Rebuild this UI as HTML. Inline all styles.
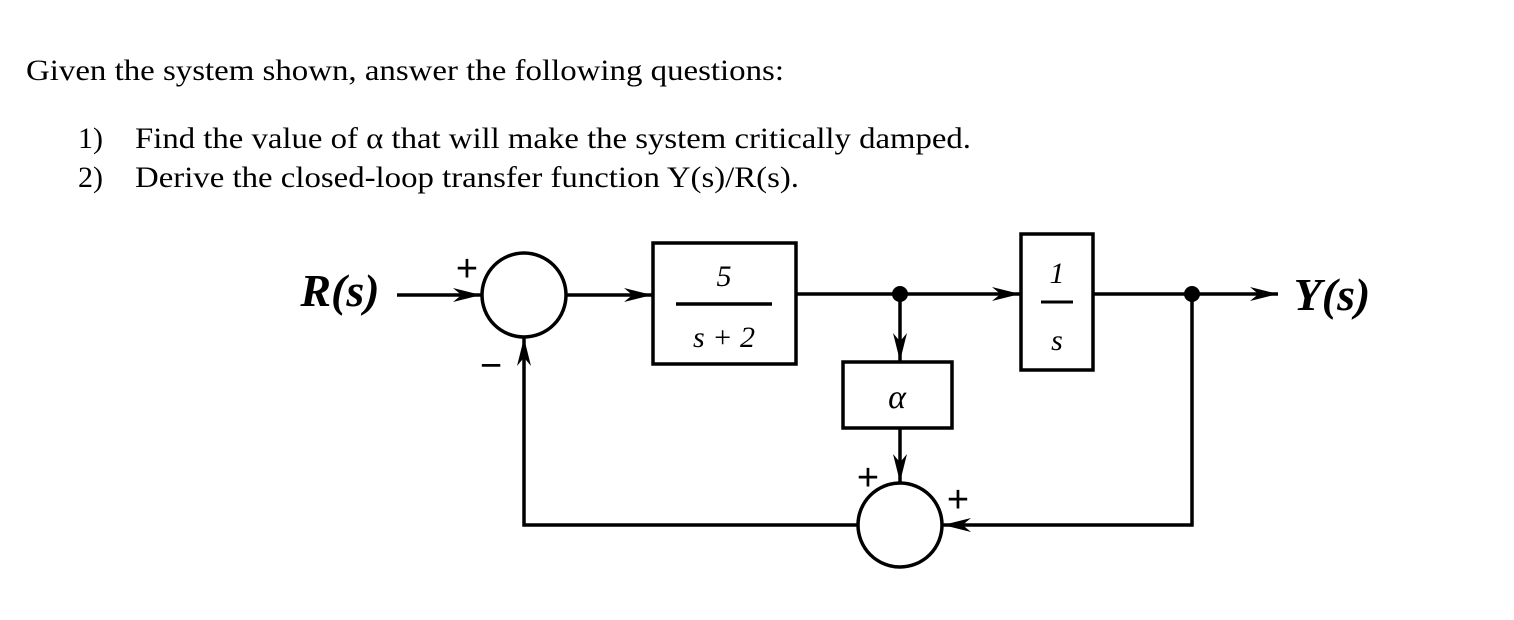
<!DOCTYPE html>
<html><head><meta charset="utf-8"><style>
html,body{margin:0;padding:0;background:#fff;}
svg{display:block;}
</style></head><body>
<svg width="1514" height="620" viewBox="0 0 1514 620" xmlns="http://www.w3.org/2000/svg">
<defs>
<marker id="ah" viewBox="0 0 20 10" refX="20" refY="5" markerWidth="40" markerHeight="14" markerUnits="userSpaceOnUse" orient="auto">
<path d="M0,0 L20,5 L0,10 L6,5 Z" fill="#000"/>
</marker>
</defs>
<g font-family="Liberation Serif, serif" fill="#000">
<text x="26" y="80" font-size="30" textLength="758" lengthAdjust="spacingAndGlyphs">Given the system shown, answer the following questions:</text>
<text x="78" y="148" font-size="30">1)</text>
<text x="135" y="148" font-size="30" textLength="836" lengthAdjust="spacingAndGlyphs">Find the value of α that will make the system critically damped.</text>
<text x="78" y="187" font-size="30">2)</text>
<text x="135" y="187" font-size="30" textLength="664" lengthAdjust="spacingAndGlyphs">Derive the closed-loop transfer function Y(s)/R(s).</text>
</g>
<g stroke="#000" stroke-width="3.5" fill="none">
<circle cx="524" cy="295" r="42"/>
<circle cx="900" cy="525" r="42"/>
<rect x="653" y="243" width="143" height="121"/>
<rect x="1021" y="234" width="72" height="136"/>
<rect x="843" y="362" width="109" height="66"/>
<line x1="397" y1="295" x2="481" y2="295" marker-end="url(#ah)"/>
<line x1="566" y1="295" x2="652" y2="295" marker-end="url(#ah)"/>
<line x1="796" y1="294" x2="1020" y2="294" marker-end="url(#ah)"/>
<line x1="1093" y1="294" x2="1278" y2="294" marker-end="url(#ah)"/>
<line x1="900" y1="294" x2="900" y2="361" marker-end="url(#ah)"/>
<line x1="900" y1="428" x2="900" y2="482" marker-end="url(#ah)"/>
<polyline points="1192,294 1192,525 1000,525"/>
<line x1="1000" y1="525" x2="943" y2="525" marker-end="url(#ah)"/>
<polyline points="858,525 524,525 524,400"/>
<line x1="524" y1="400" x2="524" y2="338" marker-end="url(#ah)"/>
<line x1="676" y1="304" x2="772" y2="304"/>
<line x1="1041" y1="302" x2="1073" y2="302" stroke-width="3"/>
</g>
<circle cx="900" cy="294" r="8" fill="#000"/>
<circle cx="1192" cy="294" r="8" fill="#000"/>
<g font-family="Liberation Sans, sans-serif" font-size="38" fill="#000" text-anchor="middle">
<text x="467" y="281">+</text>
<text x="491" y="378">−</text>
<text x="868" y="490">+</text>
<text x="958" y="512">+</text>
</g>
<g font-family="Liberation Serif, serif" font-style="italic" fill="#000" text-anchor="middle">
<text x="340" y="306" font-size="46" font-weight="bold">R(s)</text>
<text x="1332" y="310" font-size="46" font-weight="bold">Y(s)</text>
<text x="724" y="286" font-size="30">5</text>
<text x="724" y="347" font-size="30">s + 2</text>
<text x="1057" y="283" font-size="30">1</text>
<text x="1057" y="350" font-size="30">s</text>
<text x="897" y="408" font-size="34">α</text>
</g>
</svg>
</body></html>
